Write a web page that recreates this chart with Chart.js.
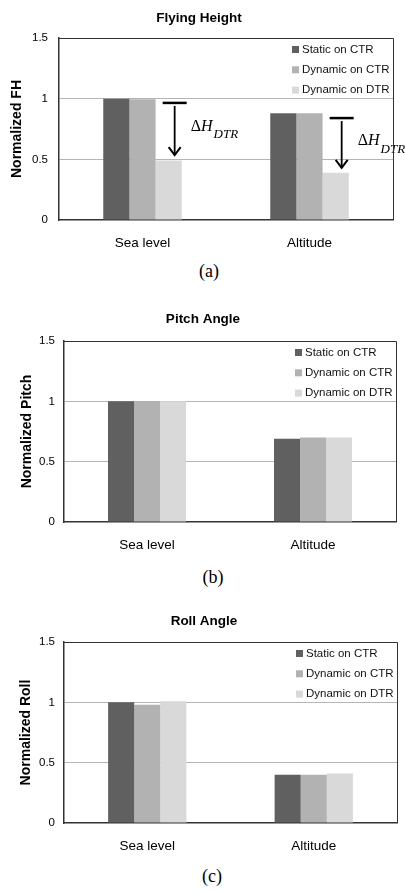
<!DOCTYPE html>
<html>
<head>
<meta charset="utf-8">
<script src="https://cdn.jsdelivr.net/npm/chart.js@4.4.0/dist/chart.umd.min.js"></script>
<style>
  body{margin:0;background:#fff;}
  #wrap{position:relative;width:405px;height:892px;overflow:hidden;}
  .box{position:absolute;left:0;width:405px;}
  .cap{position:absolute;width:60px;text-align:center;font:18px "Liberation Serif","Times New Roman",serif;line-height:20px;color:#000;}
</style>
</head>
<body>
<div id="wrap">
  <div class="box" style="top:0;height:255px"><canvas id="fh"></canvas></div>
  <div class="cap" style="left:179px;top:261px">(a)</div>
  <div class="box" style="top:301px;height:256px"><canvas id="pitch"></canvas></div>
  <div class="cap" style="left:183px;top:567px">(b)</div>
  <div class="box" style="top:603px;height:255px"><canvas id="roll"></canvas></div>
  <div class="cap" style="left:182px;top:866px">(c)</div>
</div>
<script>
const categories = ["Sea level", "Altitude"];
const seriesNames = ["Static on CTR", "Dynamic on CTR", "Dynamic on DTR"];
const seriesColors = ["#606060", "#b2b2b2", "#d9d9d9"];

// flying height
const fhStatic = [1.0, 0.88];
const fhDynCTR = [0.995, 0.88];
const fhDynDTR = [0.49, 0.39];
// pitch
const pitchStatic = [1.0, 0.69];
const pitchDynCTR = [1.0, 0.70];
const pitchDynDTR = [1.0, 0.70];
// roll
const rollStatic = [1.0, 0.40];
const rollDynCTR = [0.98, 0.40];
const rollDynDTR = [1.01, 0.41];

const yMin = 0, yMax = 1.5, yStep = 0.5;
const yTickLabels = {0: "0", 0.5: "0.5", 1: "1", 1.5: "1.5"};

// delta-H arrows on the FH chart (values on the y axis)
const arrowFrom = [0.965, 0.84];
const arrowTo = [0.535, 0.43];
const arrowLabelAt = [0.77, 0.65];

const SANS = "'Liberation Sans', Arial, sans-serif";
const SERIF = "'Liberation Serif', 'Times New Roman', serif";

const inLegend = {
  id: "inLegend",
  afterDraw(chart){
    const {ctx, chartArea:a} = chart;
    ctx.save();
    chart.data.datasets.forEach((d,i)=>{
      const y = a.top + 11.5 + i*20.3;
      const x = a.right - 101;
      ctx.fillStyle = d.backgroundColor;
      ctx.fillRect(x, y-3.5, 7, 7);
      ctx.fillStyle = "#111";
      ctx.font = "11.5px " + SANS;
      ctx.textBaseline = "middle";
      ctx.textAlign = "left";
      ctx.fillText(d.label, x+10, y);
    });
    ctx.restore();
  }
};

const frame = {
  id: "frame",
  afterDraw(chart){
    const {ctx, chartArea:a} = chart;
    ctx.save();
    ctx.strokeStyle = "#333";
    ctx.lineWidth = 1;
    ctx.beginPath();
    ctx.moveTo(a.left, a.top+0.5);
    ctx.lineTo(a.right+0.5, a.top+0.5);
    ctx.lineTo(a.right+0.5, a.bottom);
    ctx.stroke();
    ctx.restore();
  }
};

const deltaArrows = {
  id: "deltaArrows",
  afterDatasetsDraw(chart){
    const {ctx} = chart;
    const y = chart.scales.y;
    const bars = chart.getDatasetMeta(2).data;
    ctx.save();
    ctx.strokeStyle = "#000";
    bars.forEach((b,i)=>{
      const x = b.x + 6;
      const y0 = y.getPixelForValue(arrowFrom[i]);
      const y1 = y.getPixelForValue(arrowTo[i]);
      ctx.lineWidth = 2.5;
      ctx.beginPath(); ctx.moveTo(x-12, y0); ctx.lineTo(x+12, y0); ctx.stroke();
      ctx.lineWidth = 1.8;
      ctx.beginPath(); ctx.moveTo(x, y0+3); ctx.lineTo(x, y1); ctx.stroke();
      ctx.lineWidth = 2;
      ctx.beginPath(); ctx.moveTo(x-6, y1-8); ctx.lineTo(x, y1); ctx.lineTo(x+6, y1-8); ctx.stroke();
      // label: ΔH_DTR
      const ly = y.getPixelForValue(arrowLabelAt[i]);
      let lx = x + 16;
      ctx.fillStyle = "#000";
      ctx.textBaseline = "middle";
      ctx.textAlign = "left";
      ctx.font = "16px " + SERIF;
      ctx.fillText("\u0394", lx, ly);
      lx += ctx.measureText("\u0394").width;
      ctx.font = "italic 16px " + SERIF;
      ctx.fillText("H", lx, ly);
      lx += ctx.measureText("H").width + 1;
      ctx.font = "italic 13px " + SERIF;
      ctx.fillText("DTR", lx, ly+8);
    });
    ctx.restore();
  }
};

function makeChart(id, o){
  const ds = o.series.map((vals,i)=>({
    label: seriesNames[i],
    data: vals,
    backgroundColor: seriesColors[i],
    borderWidth: 0,
    categoryPercentage: 0.47,
    barPercentage: 1
  }));
  const plugins = [inLegend, frame];
  if(o.arrows) plugins.push(deltaArrows);
  return new Chart(document.getElementById(id), {
    type: "bar",
    data: {labels: categories, datasets: ds},
    plugins,
    options: {
      responsive: true, maintainAspectRatio: false, animation: false,
      layout: {padding: {left: o.padL, right: o.padR, top: 0, bottom: 0}},
      plugins: {
        legend: {display: false},
        tooltip: {enabled: false},
        title: {
          display: true, text: o.title, color: "#000",
          font: {family: SANS, size: 13.5, weight: "bold", lineHeight: 1.2},
          padding: {top: 10, bottom: o.titleGap}
        }
      },
      scales: {
        x: {
          grid: {display: false, drawTicks: false},
          border: {display: true, color: "#333", width: 1.5},
          ticks: {color: "#000", font: {family: SANS, size: 13.5}, padding: 15},
          afterFit: s => { s.height = 35; }
        },
        y: {
          min: yMin, max: yMax,
          ticks: {stepSize: yStep, color: "#000", font: {family: SANS, size: 11.5}, padding: o.tickPad,
            callback: v => yTickLabels[v] ?? String(v)},
          grid: {color: c => (c.tick.value === yMin || c.tick.value === yMax) ? "rgba(0,0,0,0)" : "#b5b5b5", drawTicks: false},
          border: {display: true, color: "#333", width: 1.5},
          title: {display: true, text: o.yTitle, color: "#000",
            font: {family: SANS, size: 14, weight: "bold", lineHeight: 1.2},
            padding: {top: o.yTitlePad, bottom: 0}},
          afterFit: s => { s.width = o.yWidth; }
        }
      }
    }
  });
}

makeChart("fh", {
  title: "Flying Height", yTitle: "Normalized FH",
  series: [fhStatic, fhDynCTR, fhDynDTR],
  padL: 5, padR: 12, yWidth: 54, titleGap: 11.8, tickPad: 11, yTitlePad: 4, arrows: true
});
makeChart("pitch", {
  title: "Pitch Angle", yTitle: "Normalized Pitch",
  series: [pitchStatic, pitchDynCTR, pitchDynDTR],
  padL: 10, padR: 9, yWidth: 54, titleGap: 13.8, tickPad: 9, yTitlePad: 8.6
});
makeChart("roll", {
  title: "Roll Angle", yTitle: "Normalized Roll",
  series: [rollStatic, rollDynCTR, rollDynDTR],
  padL: 11, padR: 8, yWidth: 53, titleGap: 12.8, tickPad: 9, yTitlePad: 6.6
});
</script>
</body>
</html>
